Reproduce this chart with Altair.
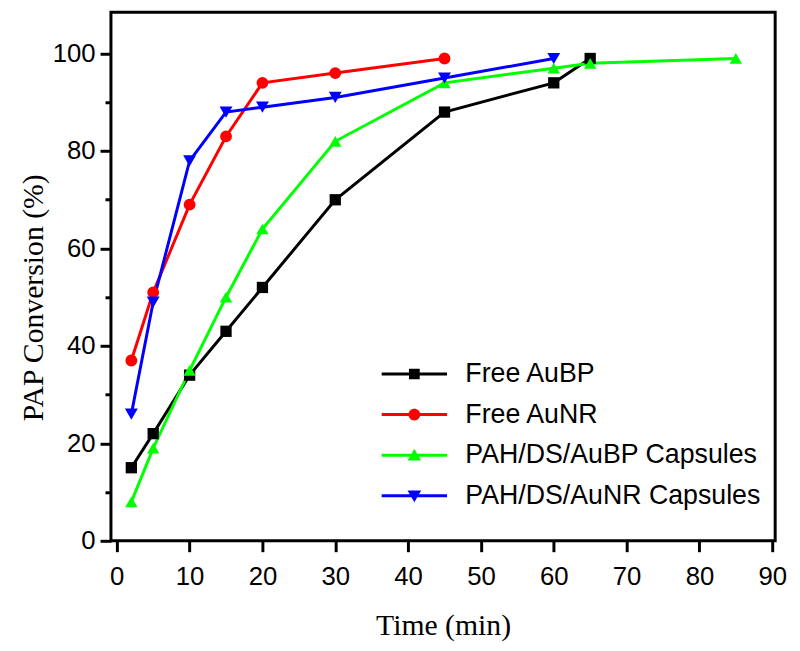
import altair as alt
import pandas as pd

series_names = ["Free AuBP", "Free AuNR", "PAH/DS/AuBP Capsules", "PAH/DS/AuNR Capsules"]
colors = ["#000000", "#ff0000", "#00ff00", "#0000ff"]
shapes = ["square", "circle", "triangle-up", "triangle-down"]
marker_sizes = [130, 170, 230, 230]

free_aubp_t = [2, 5, 10, 15, 20, 30, 45, 60, 65]
free_aubp_y = [15, 22, 34, 43, 52, 70, 88, 94, 99]

free_aunr_t = [2, 5, 10, 15, 20, 30, 45]
free_aunr_y = [37, 51, 69, 83, 94, 96, 99]

cap_aubp_t = [2, 5, 10, 15, 20, 30, 45, 60, 65, 85]
cap_aubp_y = [8, 19, 35, 50, 64, 82, 94, 97, 98, 99]

cap_aunr_t = [2, 5, 10, 15, 20, 30, 45, 60]
cap_aunr_y = [26, 49, 78, 88, 89, 91, 95, 99]

x_ticks = [0, 5, 10, 15, 20, 25, 30, 35, 40, 45, 50, 55, 60, 65, 70, 75, 80, 85, 90]
y_ticks = [0, 10, 20, 30, 40, 50, 60, 70, 80, 90, 100]

rows = []
for name, ts, ys in zip(series_names,
                        [free_aubp_t, free_aunr_t, cap_aubp_t, cap_aunr_t],
                        [free_aubp_y, free_aunr_y, cap_aubp_y, cap_aunr_y]):
    for i, (t, y) in enumerate(zip(ts, ys)):
        rows.append({"series": name, "time": t, "conv": y, "order": i})
df = pd.DataFrame(rows)

# legend glyphs: a line with the marker on it (filled paths)
bar = "M-5.5,-0.25H5.5V0.25H-5.5Z "
legend_paths = [
    bar + "M-0.9,-0.9H0.9V0.9H-0.9Z",
    bar + "M1,0A1,1 0 1,1 -1,0A1,1 0 1,1 1,0Z",
    bar + "M0,-1.1L1.15,0.9H-1.15Z",
    bar + "M-1.15,-0.9H1.15L0,1.1Z",
]

color_scale = alt.Scale(domain=series_names, range=colors)

xenc = alt.X("time:Q", scale=alt.Scale(domain=[-0.8, 90.4], nice=False, zero=False),
             axis=alt.Axis(values=x_ticks, title="Time (min)",
                           labelExpr="datum.value % 10 == 0 ? datum.label : ''",
                           labelOverlap=False,
                           tickSize=alt.condition("datum.value % 10 == 0", alt.value(11), alt.value(6)),
                           grid=False, domain=False))
yenc = alt.Y("conv:Q", scale=alt.Scale(domain=[0, 108.5], nice=False),
             axis=alt.Axis(values=y_ticks, title="PAP Conversion (%)",
                           labelExpr="datum.value % 20 == 0 ? datum.label : ''",
                           labelOverlap=False,
                           tickSize=alt.condition("datum.value % 20 == 0", alt.value(11), alt.value(6)),
                           grid=False, domain=False, titleY=288))

base = alt.Chart(df)

lines = base.mark_line(strokeWidth=3).encode(
    x=xenc, y=yenc,
    color=alt.Color("series:N", scale=color_scale, legend=None),
    detail="series:N",
    order="order:Q",
)

points = base.mark_point(filled=True, opacity=1).encode(
    x="time:Q", y="conv:Q",
    color=alt.Color("series:N", scale=color_scale, legend=None),
    shape=alt.Shape("series:N", scale=alt.Scale(domain=series_names, range=shapes), legend=None),
    size=alt.Size("series:N", scale=alt.Scale(domain=series_names, range=marker_sizes), legend=None),
)

leg = dict(title=None, orient="none", legendX=293, legendY=352,
           labelFontSize=27, labelFont="Liberation Sans",
           labelColor="black", symbolSize=144, symbolStrokeWidth=0, symbolOpacity=1,
           labelOffset=38, rowPadding=13, padding=0, labelLimit=400)

legend_layer = alt.Chart(pd.DataFrame({"series": series_names})).transform_filter("false").mark_point(
    filled=True, opacity=1).encode(
    fill=alt.Fill("series:N", scale=alt.Scale(domain=series_names, range=colors),
                  legend=alt.Legend(**leg)),
    shape=alt.Shape("series:N", scale=alt.Scale(domain=series_names, range=legend_paths),
                    legend=alt.Legend(**leg)),
)

chart = alt.layer(lines, points, legend_layer).resolve_scale(
    shape="independent", fill="independent").properties(
    width=671, height=534,
    autosize=alt.AutoSizeParams(type="none"),
    padding={"left": 104, "top": 1, "right": 17, "bottom": 100},
    background="white",
).configure_view(stroke="black", strokeWidth=3).configure_axis(
    labelFont="Liberation Sans", labelFontSize=26, labelColor="black",
    tickColor="black", tickWidth=3,
    titleFont="Liberation Serif", titleFontWeight="normal", titleColor="black",
).configure_axisX(labelPadding=12, titlePadding=22, titleFontSize=30).configure_axisY(
    labelPadding=5, titlePadding=4, titleFontSize=30)

chart.save("out.html", embed_options={"renderer": "svg", "actions": False})
